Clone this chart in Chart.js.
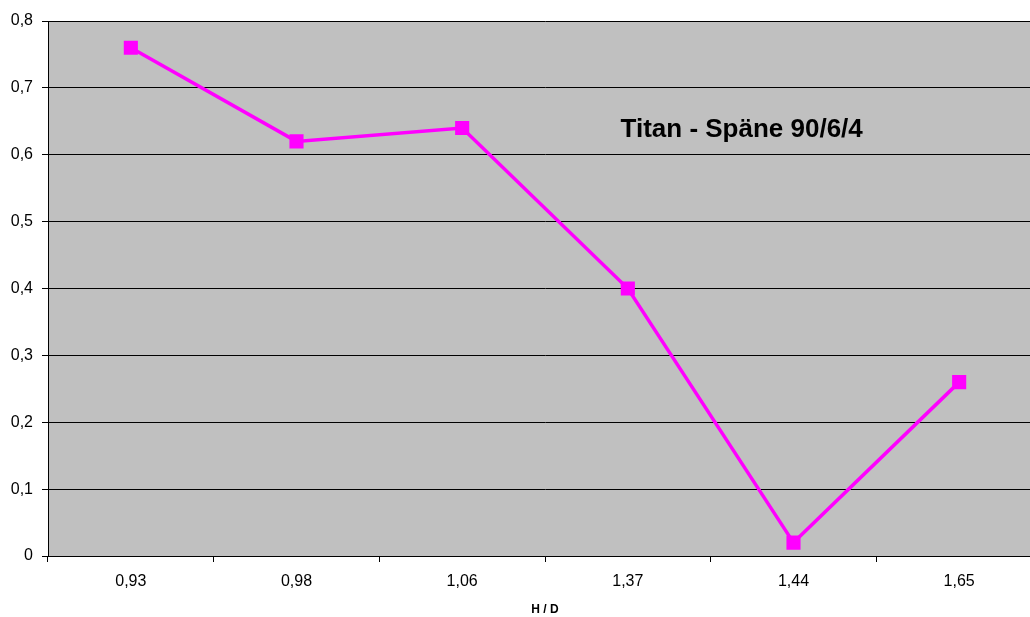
<!DOCTYPE html>
<html>
<head>
<meta charset="utf-8">
<script src="https://cdn.jsdelivr.net/npm/chart.js@4.4.1/dist/chart.umd.min.js"></script>
<style>
  html, body { margin: 0; padding: 0; background: #fff; overflow: hidden; }
  canvas { display: block; }
</style>
</head>
<body>
<canvas id="chart" width="1053" height="617"></canvas>
<script>
// Werte aus dem Diagramm
const categories = ['0,93', '0,98', '1,06', '1,37', '1,44', '1,65'];
const values = [0.76, 0.62, 0.64, 0.40, 0.02, 0.26];
const chartTitle = 'Titan - Späne 90/6/4';
const xTitle = 'H / D';

const FONT = '"Liberation Sans", Arial, sans-serif';

// grauer Hintergrund der Zeichenfläche + Titel im Diagramm
const plotBackground = {
  id: 'plotBackground',
  beforeDraw(chart) {
    const a = chart.chartArea;
    const ctx = chart.ctx;
    ctx.save();
    ctx.fillStyle = '#c0c0c0';
    ctx.fillRect(a.left, a.top, a.right - a.left, a.bottom - a.top);
    ctx.restore();
  },
  afterDraw(chart) {
    const ctx = chart.ctx;
    const x = chart.scales.x;
    const y = chart.scales.y;
    ctx.save();
    ctx.font = 'bold 26px ' + FONT;
    ctx.fillStyle = '#000';
    ctx.textAlign = 'center';
    ctx.textBaseline = 'alphabetic';
    ctx.fillText(chartTitle, (x.getPixelForValue(3) + x.getPixelForValue(4)) / 2 + 31, y.getPixelForValue(0.627));
    ctx.restore();
  }
};

const ctx = document.getElementById('chart').getContext('2d');
new Chart(ctx, {
  type: 'line',
  data: {
    labels: categories,
    datasets: [{
      data: values,
      borderColor: '#ff00ff',
      backgroundColor: '#ff00ff',
      borderWidth: 3.5,
      pointStyle: 'rect',
      pointRadius: 7.5,
      pointHoverRadius: 7.5,
      fill: false,
      tension: 0
    }]
  },
  options: {
    responsive: false,
    animation: false,
    devicePixelRatio: 1,
    layout: { padding: { top: 21, right: 0, bottom: 0, left: 0 } },
    plugins: {
      legend: { display: false },
      tooltip: { enabled: false }
    },
    scales: {
      x: {
        offset: true,
        grid: {
          offset: true,
          drawOnChartArea: false,
          color: '#000',
          tickLength: 6,
          tickColor: '#000'
        },
        border: { color: '#000', width: 1 },
        ticks: {
          color: '#000',
          font: { family: FONT, size: 16 },
          padding: 10,
          maxRotation: 0
        },
        title: {
          display: true,
          text: xTitle,
          color: '#000',
          font: { family: FONT, size: 12, weight: 'bold' },
          padding: { top: 10, bottom: 0 }
        },
        afterFit(scale) { scale.height = 61; }
      },
      y: {
        min: 0,
        max: 0.8,
        grid: {
          color: '#000',
          tickLength: 6,
          tickColor: '#000'
        },
        border: { color: '#000', width: 1 },
        ticks: {
          stepSize: 0.1,
          color: '#000',
          font: { family: FONT, size: 16 },
          padding: 9,
          callback: v => (Math.round(v * 10) / 10).toString().replace('.', ',')
        },
        afterFit(scale) { scale.width = 48; }
      }
    }
  },
  plugins: [plotBackground]
});
</script>
</body>
</html>
